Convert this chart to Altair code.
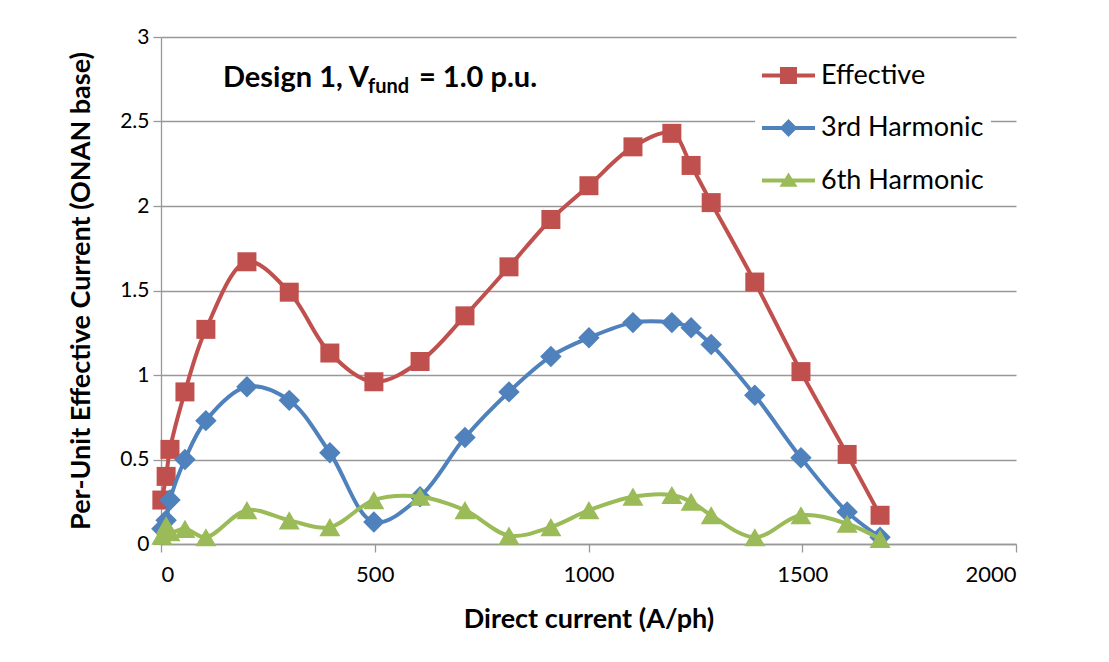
import altair as alt
import pandas as pd

# ---- data ----
current = [2, 12, 21, 56, 105, 201, 300, 395, 498, 606, 711, 814, 912, 1001,
           1104, 1195, 1240, 1287, 1389, 1497, 1605, 1682]
effective = [0.26, 0.40, 0.56, 0.90, 1.27, 1.67, 1.49, 1.13, 0.96, 1.08, 1.35,
             1.64, 1.92, 2.12, 2.35, 2.43, 2.24, 2.02, 1.55, 1.02, 0.53, 0.17]
harm3 = [0.09, 0.14, 0.26, 0.50, 0.73, 0.93, 0.85, 0.54, 0.13, 0.28, 0.63,
         0.90, 1.11, 1.22, 1.31, 1.31, 1.28, 1.18, 0.88, 0.51, 0.19, 0.04]
harm6 = [0.05, 0.11, 0.07, 0.09, 0.04, 0.20, 0.14, 0.10, 0.26, 0.28, 0.20,
         0.05, 0.10, 0.20, 0.28, 0.29, 0.25, 0.17, 0.04, 0.17, 0.12, 0.03]

series_names = ["Effective", "3rd Harmonic", "6th Harmonic"]
series_values = [effective, harm3, harm6]
colors = ["#C0504D", "#4F81BD", "#9BBB59"]
shapes = ["square", "diamond", "triangle-up"]
sizes = [361, 460, 441]
x_ticks = [0, 500, 1000, 1500, 2000]
y_ticks = [0, 0.5, 1, 1.5, 2, 2.5, 3]

rows = []
for name, vals in zip(series_names, series_values):
    for xv, yv in zip(current, vals):
        rows.append({"series": name, "x": xv, "y": yv})
df = pd.DataFrame(rows)

FONT = "Lato"
GRID = "#989898"
W, H = 855, 507

x_enc = alt.X("x:Q", scale=alt.Scale(domain=[0, 2000], nice=False),
              axis=alt.Axis(values=x_ticks, format="d", grid=False,
                            title="Direct current (A/ph)",
                            labelFontSize=22, labelPadding=12,
                            titleFontSize=27, titleFontWeight="bold",
                            titlePadding=21))
y_enc = alt.Y("y:Q", scale=alt.Scale(domain=[0, 3], nice=False),
              axis=alt.Axis(values=y_ticks, format="~g", grid=True,
                            title="Per-Unit  Effective Current (ONAN base)",
                            labelFontSize=21, labelPadding=4,
                            titleFontSize=27, titleFontWeight="bold",
                            titlePadding=24))

base = alt.Chart(df)
layers = []
for i, name in enumerate(series_names):
    sub = base.transform_filter(alt.datum.series == name)
    layers.append(sub.mark_line(interpolate="catmull-rom", strokeWidth=4,
                                color=colors[i]).encode(x=x_enc, y=y_enc))
    layers.append(sub.mark_point(filled=True, opacity=1, shape=shapes[i],
                                 size=sizes[i], color=colors[i], strokeWidth=0)
                  .encode(x=x_enc, y=y_enc))

# legend symbols: line with marker (custom paths)
legend_paths = [
    "M-1,-0.08H-0.32V-0.32H0.32V-0.08H1V0.08H0.32V0.32H-0.32V0.08H-1Z",
    "M-1,-0.08H-0.26L0,-0.34L0.26,-0.08H1V0.08H0.26L0,0.34L-0.26,0.08H-1Z",
    "M-1,-0.08H-0.14L0,-0.30L0.14,-0.08H1V0.08H0.24L0.34,0.24H-0.34L-0.24,0.08H-1Z",
]
leg = alt.Legend(orient="none", legendX=594, legendY=5, title=None,
                 labelFont=FONT, labelFontSize=27, labelColor="#000000",
                 symbolSize=2809, symbolStrokeWidth=0, symbolOpacity=1,
                 rowPadding=12.5, padding=7, labelOffset=6, labelLimit=0,
                 fillColor="white")
legend_layer = base.transform_filter("false").mark_point(filled=True).encode(
    x=x_enc, y=y_enc,
    color=alt.Color("series:N", scale=alt.Scale(domain=series_names, range=colors), legend=leg),
    shape=alt.Shape("series:N", scale=alt.Scale(domain=series_names, range=legend_paths), legend=leg),
)
layers.append(legend_layer)

# annotation with subscript
ann_main = alt.Chart(pd.DataFrame({"t": ["Design 1, V"]})).mark_text(
    font=FONT, fontSize=29, fontWeight="bold", align="left", baseline="alphabetic",
    color="#000000").encode(x=alt.value(62), y=alt.value(50), text="t:N")
ann_sub = alt.Chart(pd.DataFrame({"t": ["fund"]})).mark_text(
    font=FONT, fontSize=20, fontWeight="bold", align="left", baseline="alphabetic",
    color="#000000").encode(x=alt.value(207), y=alt.value(56), text="t:N")
ann_rest = alt.Chart(pd.DataFrame({"t": ["= 1.0 p.u."]})).mark_text(
    font=FONT, fontSize=29, fontWeight="bold", align="left", baseline="alphabetic",
    color="#000000").encode(x=alt.value(258), y=alt.value(50), text="t:N")
layers += [ann_main, ann_sub, ann_rest]

chart = alt.layer(*layers).properties(
    width=W, height=H,
    autosize=alt.AutoSizeParams(type="none"),
    padding={"left": 153, "top": 29, "right": 80, "bottom": 100},
    background="white",
).configure_view(stroke="transparent").configure_axis(
    labelFont=FONT, titleFont=FONT, labelColor="#000000", titleColor="#000000",
    domainColor=GRID, tickColor=GRID, gridColor=GRID, tickSize=8,
    domainWidth=1.3, gridWidth=1.3, tickWidth=1.3,
)

chart.save("out.html", embed_options={"renderer": "svg", "actions": False})
